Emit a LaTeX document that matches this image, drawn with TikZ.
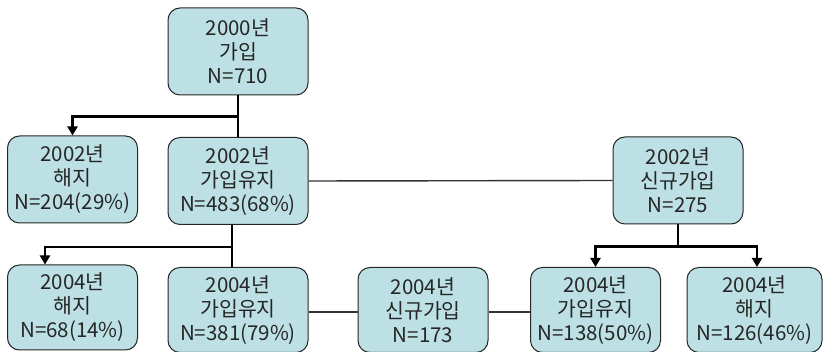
\documentclass[tikz,border=0pt]{standalone}
\usepackage{fontspec}
\setmainfont{Noto Sans CJK KR}
\usetikzlibrary{arrows.meta}
\definecolor{boxfill}{RGB}{188,224,228}
\begin{document}
\begin{tikzpicture}[x=1pt,y=-1pt,
  box/.style={draw=black!85,line width=1pt,rounded corners=12pt,fill=boxfill,
    minimum width=130pt,minimum height=87pt,inner sep=0pt,align=center,
    text=black!85,font=\fontsize{20.5}{24}\selectfont},
  wide/.style={box,minimum width=140pt},
  low/.style={minimum height=85pt},
  split/.style={line width=2.8pt,-{Triangle[width=10pt,length=9pt]}},
  stay/.style={line width=1.2pt},
  link/.style={line width=1.4pt,black!80}]
\useasboundingbox (0,0) rectangle (823,352);

\draw (238,51.5) node[wide] (y2000) {2000년\\가입\\N=710};

\draw (72.5,179.5) node[box] (q2002) {2002년\\해지\\N=204(29\%)};
\draw (238,181) node[wide] (k2002) {2002년\\가입유지\\N=483(68\%)};
\draw (678,180.5) node[box] (n2002) {2002년\\신규가입\\N=275};

\draw (72.5,307.5) node[box,low] (q2004) {2004년\\해지\\N=68(14\%)};
\draw (238,310) node[wide,low] (k2004) {2004년\\가입유지\\N=381(79\%)};
\draw (423,310) node[box,low] (n2004) {2004년\\신규가입\\N=173};
\draw (595.5,310) node[box,low] (k2004b) {2004년\\가입유지\\N=138(50\%)};
\draw (754.5,310) node[box,low,minimum width=135pt] (q2004b) {2004년\\해지\\N=126(46\%)};

% 2000 -> 2002
\draw[stay] (y2000.south) -- (k2002.north);
\draw[split] (y2000.south) -- ++(0,21) -| (q2002.north);

% 2002 -> 2004
\draw[stay] ([xshift=-6]k2002.south) -- ([xshift=-6]k2004.north);
\draw[split] ([xshift=-6]k2002.south) -- ++(0,22) -| ([xshift=-27.5]q2004.north);
\draw[split] (n2002.south) -- ++(0,22) -| (k2004b.north);
\draw[split] (n2002.south) -- ++(0,22) -| ([xshift=2.5]q2004b.north);

% same year
\draw[link] (k2002.east) -- (n2002.west);
\draw[link] ([yshift=-2]k2004.east) -- ([yshift=-2]n2004.west);
\draw[link] ([yshift=-2]n2004.east) -- ([yshift=-2]k2004b.west);
\end{tikzpicture}
\end{document}
